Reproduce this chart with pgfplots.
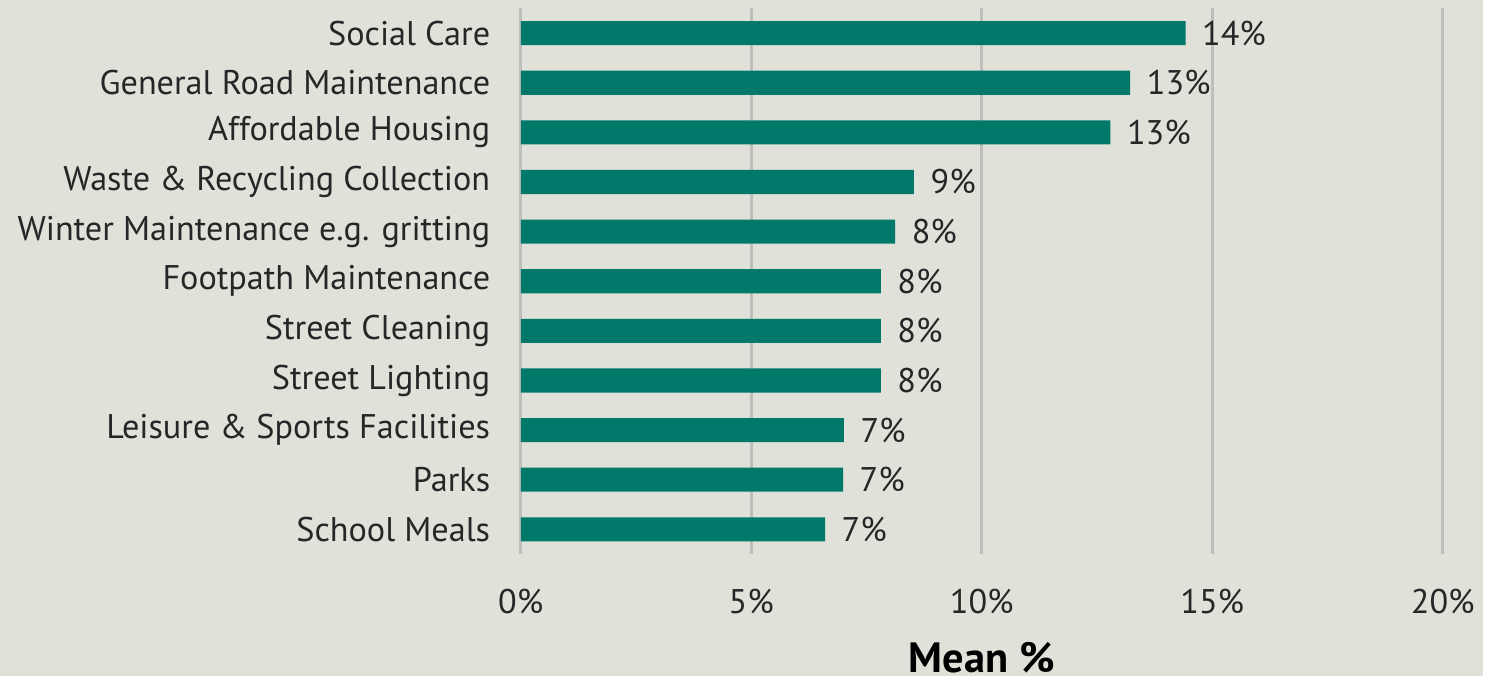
\documentclass[border=0pt]{standalone}
\usepackage{pgfplots}
\pgfplotsset{compat=1.18}
\usepackage{fontspec}
\setmainfont{PT Sans}
\definecolor{bgc}{RGB}{224,225,217}
\definecolor{barc}{RGB}{0,121,106}
\definecolor{gridc}{RGB}{190,190,188}
\begin{document}
\fontsize{10.5}{12}\selectfont
\begin{tikzpicture}
\fill[bgc] (-5.62cm,-1.31cm) rectangle (10.38cm,5.98cm);
\begin{axis}[
  at={(0,0)}, anchor=south west,
  scale only axis, width=9.95cm, height=5.89cm,
  xbar, bar width=0.26cm,
  xmin=0, xmax=20, ymin=-0.5, ymax=10.5,
  y dir=reverse,
  axis line style={draw=none},
  xtick={0,5,10,15,20},
  xticklabel={\pgfmathprintnumber{\tick}\%},
  /pgf/number format/assume math mode=true,
  xmajorgrids, major grid style={gridc, line width=0.8pt},
  extra x ticks={0}, extra x tick labels={},
  extra x tick style={grid=major},
  ytick={0,...,10},
  yticklabels={Social Care, General Road Maintenance, Affordable Housing,
    Waste \& Recycling Collection, Winter Maintenance e.g. gritting,
    Footpath Maintenance, Street Cleaning, Street Lighting,
    Leisure \& Sports Facilities, Parks, School Meals},
  major tick length=0pt,
  tick label style={font=\fontsize{10.5}{12}\selectfont, text=black!85},
  yticklabel style={xshift=-0.2cm},
  xticklabel style={yshift=-0.25cm},
  xlabel={\textbf{Mean \%}},
  xlabel style={font=\fontsize{13}{15}\selectfont, yshift=-0.05cm},
  point meta=x,
  nodes near coords={\pgfmathprintnumber[fixed,precision=0]{\pgfplotspointmeta}\%},
  every node near coord/.append style={font=\fontsize{10.5}{12}\selectfont, text=black!85, xshift=0.05cm},
]
\addplot[fill=barc, draw=none] coordinates {
  (14.42,0) (13.22,1) (12.79,2) (8.53,3) (8.12,4) (7.81,5)
  (7.81,6) (7.81,7) (7.01,8) (6.99,9) (6.60,10)};
\end{axis}
\end{tikzpicture}
\end{document}
